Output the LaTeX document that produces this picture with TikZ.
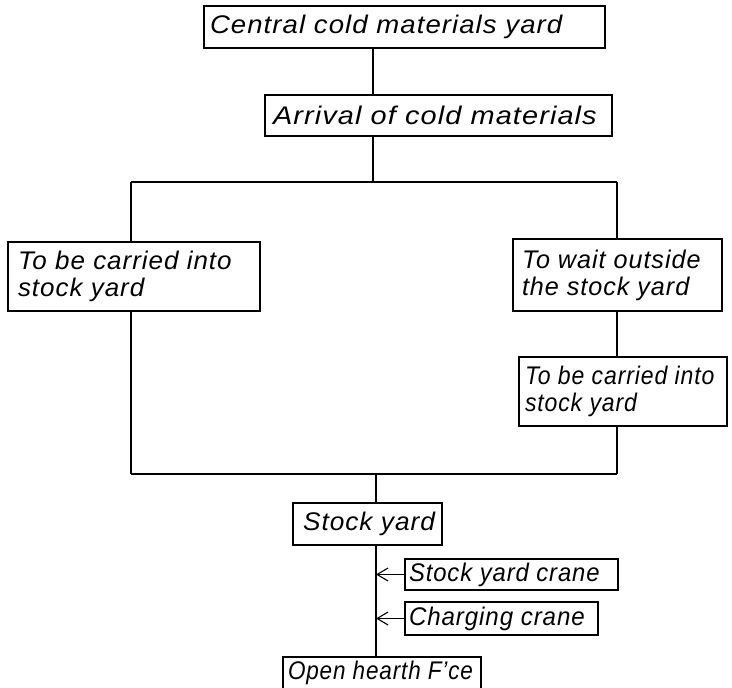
\documentclass[tikz,border=0pt]{standalone}
\usepackage{fontspec}
\usepackage{graphicx}
\newfontfamily\hand{Liberation Sans}[FakeStretch=1.05,LetterSpace=4]
\usetikzlibrary{arrows.meta}
\newcommand{\hx}[2]{\scalebox{#1}[1]{#2}}
\tikzset{
  box/.style={draw, line width=1.4pt, inner ysep=0pt, align=left,
    font=\hand\itshape\fontsize{25.5}{27}\selectfont},
  link/.style={line width=1.2pt},
  feed/.style={line width=1.2pt, -{Straight Barb[length=11pt,width=13pt,line width=1.1pt]}}
}
\begin{document}
\begin{tikzpicture}[x=1pt,y=-1pt]
\useasboundingbox (0,0) rectangle (732,688);
% boxes
\node[box, inner xsep=6pt, text width=389pt, minimum height=42pt] (top) at (404.5,27) {\hx{1.03}{Central cold materials yard}};
\node[box, inner xsep=8pt, text width=331pt, minimum height=41pt] (arr) at (438.5,115.5) {\hx{1.08}{Arrival of cold materials}};
\node[box, inner xsep=10pt, text width=232pt, minimum height=69pt] (left) at (134,276.5) {\hx{0.97}{To be carried into}\\\hx{0.97}{stock yard}};
\node[box, inner xsep=9pt, text width=191pt, minimum height=72pt] (wait) at (617.5,275) {\hx{0.94}{To wait outside}\\\hx{0.94}{the stock yard}};
\node[box, inner xsep=6pt, text width=196pt, minimum height=69pt] (carr) at (623,391.5) {\hx{0.86}{To be carried into}\\\hx{0.86}{stock yard}};
\node[box, inner xsep=10pt, text width=129pt, minimum height=42pt] (stock) at (367.5,524) {\hx{0.98}{Stock yard}};
\node[box, inner xsep=4pt, text width=205pt, minimum height=31pt] (syc) at (511.5,574.5) {\hx{0.89}{Stock yard crane}};
\node[box, inner xsep=4pt, text width=185pt, minimum height=33pt] (chc) at (501.5,618.5) {\hx{0.9}{Charging crane}};
\node[box, inner xsep=5pt, text width=188pt, minimum height=32pt] (ohf) at (382,673) {\hx{0.84}{Open hearth F’ce}};
% junction points
\coordinate (c1) at (373,0);
\coordinate (jT) at (373,182);
\coordinate (jL) at (131,182);
\coordinate (jR) at (617,182);
\coordinate (bL) at (131,474);
\coordinate (bR) at (617,474);
\coordinate (bC) at (376,474);
% connectors
\draw[link] (top.south -| c1) -- (arr.north -| c1);
\draw[link] (arr.south -| c1) -- (jT);
\draw[link] (jL) -- (jR);
\draw[link] (jL) -- (left.north -| jL);
\draw[link] (jR) -- (wait.north -| jR);
\draw[link] (left.south -| jL) -- (bL);
\draw[link] (wait.south -| jR) -- (carr.north -| jR);
\draw[link] (carr.south -| jR) -- (bR);
\draw[link] (bL) -- (bR);
\draw[link] (bC) -- (stock.north -| bC);
\draw[link] (stock.south -| bC) -- (ohf.north -| bC);
\draw[feed] (syc.west) -- (syc.west -| bC);
\draw[feed] (chc.west) -- (chc.west -| bC);
\end{tikzpicture}
\end{document}
